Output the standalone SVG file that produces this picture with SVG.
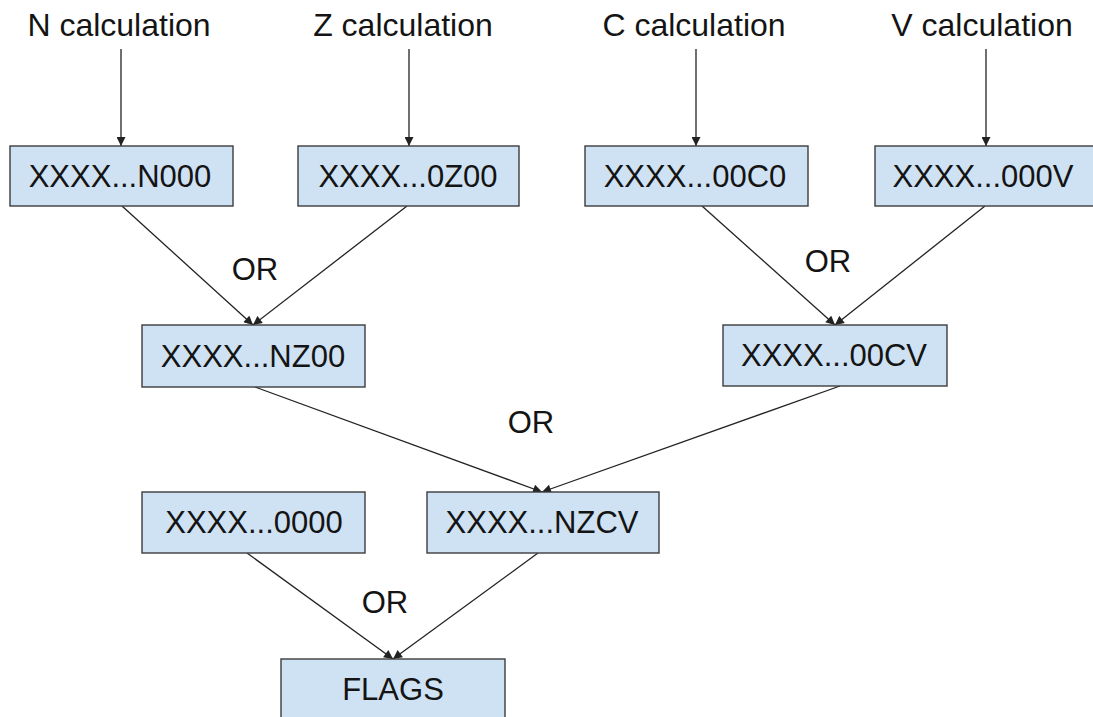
<svg xmlns="http://www.w3.org/2000/svg" width="1093" height="717" viewBox="0 0 1093 717">
<style>
.box{fill:#cfe2f3;stroke:#3c3c3c;stroke-width:1.4}
.t{font-family:"Liberation Sans",Arial,sans-serif;font-size:31px;fill:#141414;text-anchor:middle}
.h{font-size:32px}
.ln{stroke:#222;stroke-width:1.3;fill:none;marker-end:url(#ah)}
</style>
<defs>
<marker id="ah" viewBox="0 0 10 10" refX="10" refY="5" markerWidth="10" markerHeight="9" markerUnits="userSpaceOnUse" orient="auto">
<path d="M0,0 L10,5 L0,10 Z" fill="#222"/>
</marker>
</defs>
<rect width="1093" height="717" fill="#ffffff"/>
<g id="labels">
<text class="t h" x="119" y="36">N calculation</text>
<text class="t h" x="403" y="36">Z calculation</text>
<text class="t h" x="694" y="36">C calculation</text>
<text class="t h" x="982" y="36">V calculation</text>
<text class="t" x="255" y="280">OR</text>
<text class="t" x="828" y="272">OR</text>
<text class="t" x="531" y="433">OR</text>
<text class="t" x="385" y="613">OR</text>
</g>
<g id="connectors">
<line class="ln" x1="121" y1="49" x2="121" y2="146"/>
<line class="ln" x1="409" y1="49" x2="409" y2="146"/>
<line class="ln" x1="696" y1="49" x2="696" y2="146"/>
<line class="ln" x1="986" y1="49" x2="986" y2="146"/>
<line class="ln" x1="122" y1="206" x2="253" y2="325"/>
<line class="ln" x1="407" y1="206" x2="253" y2="325"/>
<line class="ln" x1="702" y1="206" x2="835" y2="325"/>
<line class="ln" x1="985" y1="206" x2="835" y2="325"/>
<line class="ln" x1="255" y1="387" x2="542" y2="492"/>
<line class="ln" x1="840" y1="386" x2="542" y2="492"/>
<line class="ln" x1="247" y1="553" x2="393" y2="659"/>
<line class="ln" x1="538" y1="553" x2="393" y2="659"/>
</g>
<g id="n000"><rect class="box" x="10" y="146" width="223" height="60"/><text class="t" x="120" y="187">XXXX...N000</text></g>
<g id="z0"><rect class="box" x="298" y="146" width="221" height="60"/><text class="t" x="408" y="187">XXXX...0Z00</text></g>
<g id="c0"><rect class="box" x="585" y="146" width="223" height="60"/><text class="t" x="695" y="187">XXXX...00C0</text></g>
<g id="v0"><rect class="box" x="875" y="146" width="223" height="60"/><text class="t" x="983" y="187">XXXX...000V</text></g>
<g id="nz00"><rect class="box" x="142" y="325" width="223" height="62"/><text class="t" x="253" y="367">XXXX...NZ00</text></g>
<g id="cv00"><rect class="box" x="723" y="325" width="224" height="61"/><text class="t" x="834" y="366">XXXX...00CV</text></g>
<g id="z0000"><rect class="box" x="142" y="492" width="223" height="61"/><text class="t" x="254" y="533">XXXX...0000</text></g>
<g id="nzcv"><rect class="box" x="427" y="492" width="232" height="61"/><text class="t" x="542" y="533">XXXX...NZCV</text></g>
<g id="flags"><rect class="box" x="281" y="659" width="224" height="70"/><text class="t" x="393" y="700">FLAGS</text></g>
</svg>
